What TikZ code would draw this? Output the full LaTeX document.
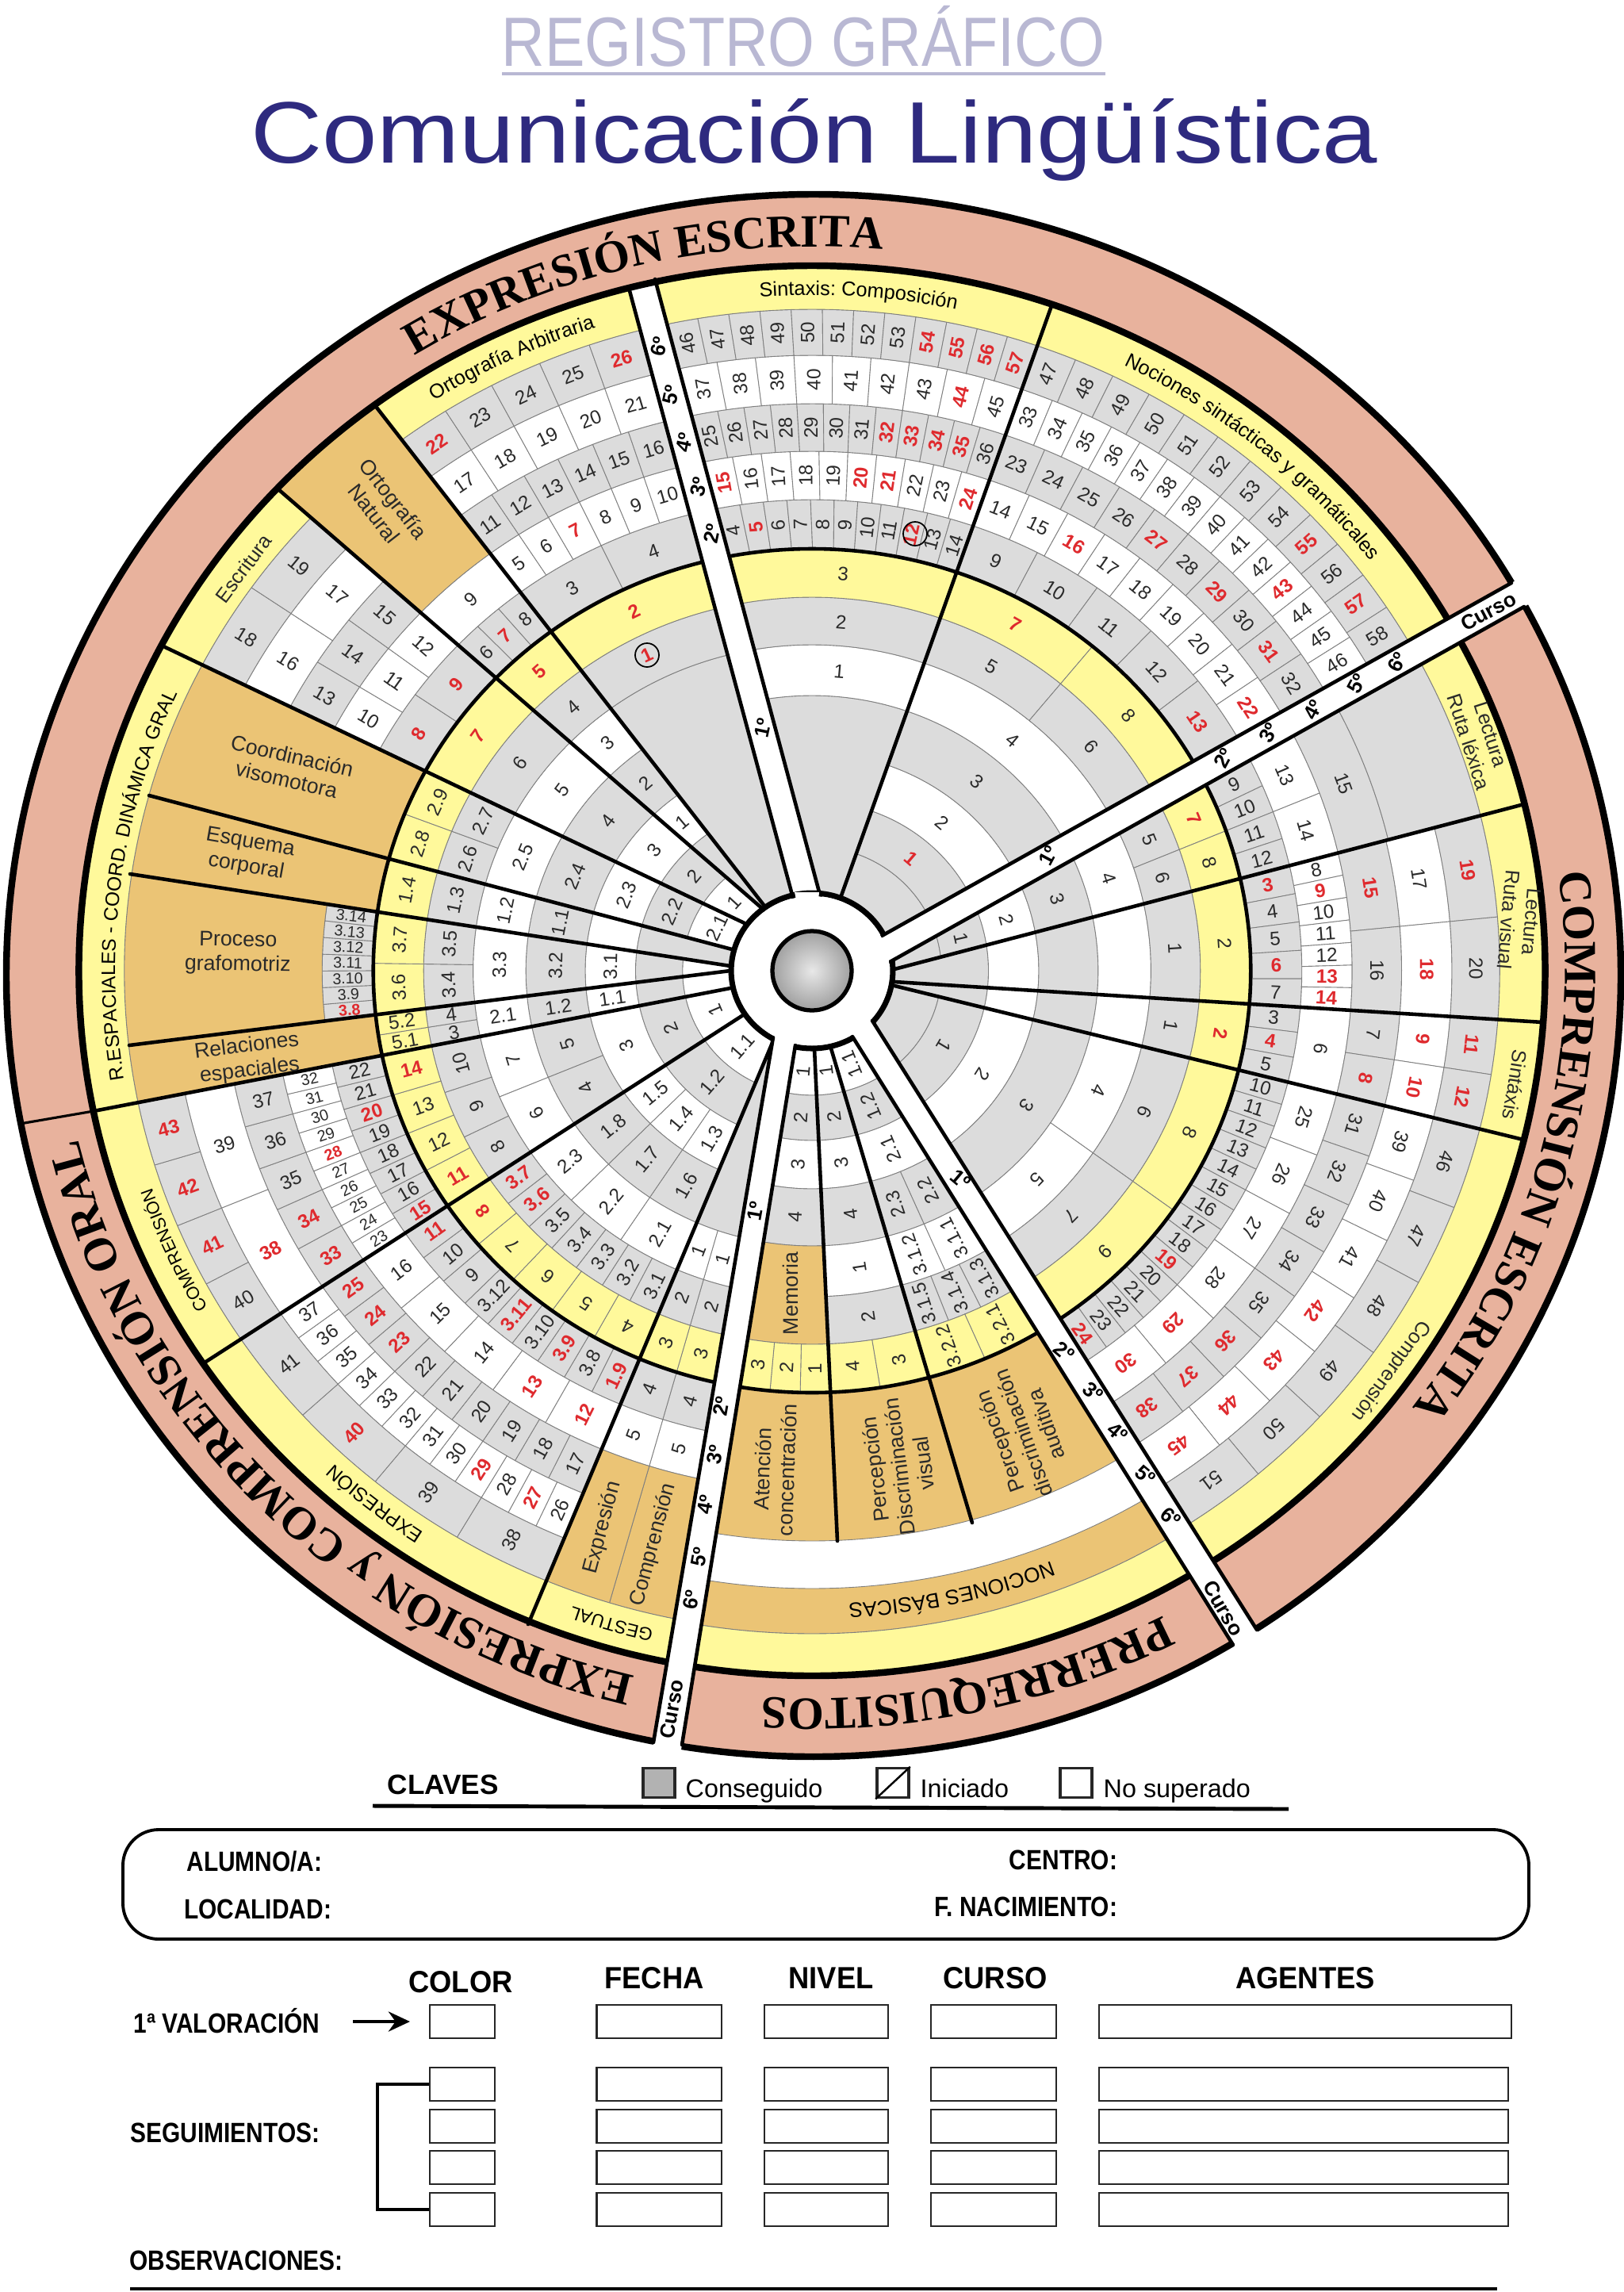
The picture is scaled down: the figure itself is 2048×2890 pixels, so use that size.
\documentclass[tikz,border=0pt]{standalone}
\usepackage{fontspec}
\usepackage{graphicx}
\setmainfont{Liberation Sans}
\newfontfamily\serifTitle{Liberation Serif}
\usetikzlibrary{calc, arrows.meta, decorations.text}

\definecolor{cellGrey}{HTML}{DCDCDC}
\definecolor{cellYellow}{HTML}{FFF99B}
\definecolor{cellOrange}{HTML}{EBC475}
\definecolor{ringSalmon}{HTML}{E8B29D}
\definecolor{cellLine}{HTML}{7F7F7F}
\definecolor{numDark}{HTML}{2A2A2A}
\definecolor{numRed}{HTML}{DF2A2E}
\definecolor{titleBlue}{HTML}{2E2A7F}
\definecolor{titlePale}{HTML}{B9B8D3}

\newcommand{\numFont}{\fontsize{6.9}{8}\selectfont}
\newcommand{\smallNum}{\fontsize{5.6}{6.5}\selectfont}
\newcommand{\labFont}{\fontsize{7.2}{8.4}\selectfont}
\newcommand{\rn}[1]{{\color{numRed}\bfseries #1}}
\newcommand{\cond}[1]{\scalebox{.85}[1]{\bfseries #1}}
\newcommand{\condHead}[1]{\scalebox{.94}[1]{\fontsize{11}{13}\bfseries\selectfont #1}}

\tikzset{
    cell/.style={draw=cellLine, line width=0.25pt},
    num/.style={font=\numFont, text=numDark, inner sep=0pt},
    orangeText/.style={font=\fontsize{7.6}{8.8}\selectfont, text=numDark, align=center, inner sep=0pt},
    yellowText/.style={font=\labFont, text=numDark, align=center, inner sep=0pt},
    courseText/.style={font=\fontsize{7.4}{8}\bfseries\selectfont, inner sep=0pt},
    spoke/.style={line width=1.3pt, line cap=round},
    formBox/.style={draw=black!85, line width=0.6pt, inner sep=0pt},
    formText/.style={font=\fontsize{10}{12}\selectfont, inner sep=0pt},
    legendText/.style={font=\fontsize{9.2}{11}\selectfont, inner sep=0pt, anchor=base west}
}

% Boundaries of a sector: angle and offset of its two sides
\newcommand{\setsector}[4]{\gdef\phiA{#1}\gdef\offA{#2}\gdef\phiB{#3}\gdef\offB{#4}}

% One ring of a sector: inner radius, outer radius, fill, text rotation, labels
\newcommand{\cellrow}[5]{%
    \gdef\nCell{0}%
    \foreach \lab in {#5} {\pgfmathtruncatemacro{\tmpN}{\nCell+1}\global\let\nCell\tmpN}%
    \pgfmathsetmacro{\inA}{\phiA+asin(\offA/#1)}%
    \pgfmathsetmacro{\inB}{\phiB+asin(\offB/#1)}%
    \pgfmathsetmacro{\outA}{\phiA+asin(\offA/#2)}%
    \pgfmathsetmacro{\outB}{\phiB+asin(\offB/#2)}%
    \pgfmathsetmacro{\rMid}{(#1+#2)/2}%
    \foreach \lab [count=\k] in {#5} {%
        \pgfmathsetmacro{\cIa}{\inA+(\inB-\inA)*(\k-1)/\nCell}%
        \pgfmathsetmacro{\cIb}{\inA+(\inB-\inA)*\k/\nCell}%
        \pgfmathsetmacro{\cOa}{\outA+(\outB-\outA)*(\k-1)/\nCell}%
        \pgfmathsetmacro{\cOb}{\outA+(\outB-\outA)*\k/\nCell}%
        \pgfmathsetmacro{\cMid}{(\cIa+\cIb+\cOa+\cOb)/4}%
        \pgfmathsetmacro{\cRot}{\cMid+#4}%
        \path[cell, fill=#3] (\cIa:#1) arc[start angle=\cIa, end angle=\cIb, radius=#1]
            -- (\cOb:#2) arc[start angle=\cOb, end angle=\cOa, radius=#2] -- cycle;
        \node[num, rotate=\cRot] at (\cMid:\rMid) {\lab};
    }%
}

% Text set along a ring, clockwise
\newcommand{\arctext}[5]{%
    \path[decorate, decoration={text along path, text align=center, text={|#4|#5}}]
        (#1:#3) arc[start angle=#1, end angle=#2, radius=#3];
}

\begin{document}
\begin{tikzpicture}[x=0.01cm, y=0.01cm]
    \useasboundingbox (0,0) rectangle (2048,-2890);

    % Draw titles
    \node[anchor=base, inner sep=0pt, text=titlePale, font=\fontsize{25}{30}\selectfont] (regTitle) at (1013,-83) {\scalebox{.86}[1]{REGISTRO GRÁFICO}};
    \draw[titlePale, line width=1.1pt] (633,-93) -- (1394,-93);
    \node[anchor=base, inner sep=0pt, text=titleBlue, font=\fontsize{31.3}{36}\selectfont] (mainTitle) at (1027,-205) {\scalebox{1.133}[1]{Comunicación Lingüística}};

    % Draw the salmon band
    \path[fill=ringSalmon] (1026,-1230) ellipse [x radius=1018, y radius=985];
    \draw[line width=2.4pt] (1026,-1230) ellipse [x radius=1018, y radius=985];

    \begin{scope}[shift={(1024,-1224)}, xscale=1.04]
        \fill[white] (0,0) circle (889);

        % Sintaxis
        \setsector{104.45}{-33.2}{71.08}{-2.9}
        \cellrow{98}{347}{cellGrey}{-90}{\relax}
        \cellrow{347}{411}{white}{-90}{1}
        \cellrow{411}{471}{cellGrey}{-90}{2}
        \cellrow{471}{532}{cellYellow}{-90}{3}
        \cellrow{532}{594}{cellGrey}{0}{4,\rn{5},6,7,8,9,10,11,\rn{12},13,14}
        \cellrow{594}{655}{white}{0}{\rn{15},16,17,18,19,\rn{20},\rn{21},22,23,\rn{24}}
        \cellrow{655}{715}{cellGrey}{0}{25,26,27,28,29,30,31,\rn{32},\rn{33},\rn{34},\rn{35},36}
        \cellrow{715}{776}{white}{0}{37,38,39,40,41,42,43,\rn{44},45}
        \cellrow{776}{834}{cellGrey}{0}{46,47,48,49,50,51,52,53,\rn{54},\rn{55},\rn{56},\rn{57}}
        \cellrow{834}{889}{cellYellow}{0}{\relax}

        % Nociones sintacticas
        \setsector{71.08}{-2.9}{30.24}{-4.6}
        \cellrow{98}{157}{cellGrey}{-90}{\relax}
        \cellrow{157}{214}{cellGrey}{-90}{\rn{1}}
        \cellrow{214}{275}{white}{-90}{2}
        \cellrow{275}{347}{cellGrey}{-90}{3}
        \cellrow{347}{411}{white}{-90}{4}
        \cellrow{411}{471}{cellGrey}{-90}{5,6}
        \cellrow{471}{532}{cellYellow}{-90}{\rn{7},8}
        \cellrow{532}{594}{cellGrey}{-90}{9,10,11,12,\rn{13}}
        \cellrow{594}{655}{white}{-90}{14,15,\rn{16},17,18,19,20,21,\rn{22}}
        \cellrow{655}{715}{cellGrey}{-90}{23,24,25,26,\rn{27},28,\rn{29},30,\rn{31},32}
        \cellrow{715}{776}{white}{0}{33,34,35,36,37,38,39,40,41,42,\rn{43},44,45,46}
        \cellrow{776}{834}{cellGrey}{0}{47,48,49,50,51,52,53,54,\rn{55},56,\rn{57},58}
        \cellrow{834}{889}{cellYellow}{0}{\relax}

        % Ruta lexica
        \setsector{30.21}{-37.9}{15.24}{-24.4}
        \cellrow{98}{157}{cellGrey}{-90}{\relax}
        \cellrow{157}{214}{cellGrey}{-90}{1}
        \cellrow{214}{275}{white}{-90}{2}
        \cellrow{275}{347}{cellGrey}{-90}{3}
        \cellrow{347}{411}{white}{-90}{4}
        \cellrow{411}{471}{cellGrey}{-90}{5,6}
        \cellrow{471}{532}{cellYellow}{-90}{\rn{7},8}
        \cellrow{532}{594}{cellGrey}{0}{9,10,11,12}
        \cellrow{594}{655}{white}{-90}{13,14}
        \cellrow{655}{718}{cellGrey}{-90}{15}
        \cellrow{718}{834}{cellGrey}{-90}{\relax}
        \cellrow{834}{889}{cellYellow}{0}{\relax}

        % Ruta visual
        \setsector{15.24}{-24.4}{-3.71}{-7.5}
        \cellrow{98}{214}{cellGrey}{-90}{\relax}
        \cellrow{214}{275}{white}{-90}{\relax}
        \cellrow{275}{347}{cellGrey}{-90}{\relax}
        \cellrow{347}{411}{white}{-90}{\relax}
        \cellrow{411}{471}{cellGrey}{-90}{1}
        \cellrow{471}{532}{cellYellow}{-90}{2}
        \cellrow{532}{594}{cellGrey}{0}{\rn{3},4,5,\rn{6},7}
        \cellrow{594}{655}{white}{0}{8,\rn{9},10,11,12,\rn{13},\rn{14}}
        \cellrow{655}{715}{cellGrey}{-90}{\rn{15},16}
        \cellrow{715}{776}{white}{-90}{17,\rn{18}}
        \cellrow{776}{834}{cellGrey}{-90}{\rn{19},20}
        \cellrow{834}{889}{cellYellow}{0}{\relax}

        % Sintaxis derecha
        \setsector{-3.71}{-7.5}{-14.27}{6.2}
        \cellrow{98}{214}{cellGrey}{-90}{\relax}
        \cellrow{214}{275}{white}{-90}{\relax}
        \cellrow{275}{347}{cellGrey}{-90}{\relax}
        \cellrow{347}{411}{white}{-90}{\relax}
        \cellrow{411}{471}{cellGrey}{-90}{1}
        \cellrow{471}{532}{cellYellow}{-90}{\rn{2}}
        \cellrow{532}{594}{cellGrey}{0}{3,\rn{4},5}
        \cellrow{594}{655}{white}{-90}{6}
        \cellrow{655}{715}{cellGrey}{-90}{7,\rn{8}}
        \cellrow{715}{776}{white}{-90}{\rn{9},\rn{10}}
        \cellrow{776}{834}{cellGrey}{-90}{\rn{11},\rn{12}}
        \cellrow{834}{889}{cellYellow}{0}{\relax}

        % Comprension lectora
        \setsector{-14.27}{6.2}{-58.74}{29.8}
        \cellrow{98}{157}{cellGrey}{-90}{\relax}
        \cellrow{157}{214}{cellGrey}{-90}{1}
        \cellrow{214}{275}{white}{-90}{2}
        \cellrow{275}{347}{cellGrey}{-90}{3}
        \cellrow{347}{411}{white}{-90}{4,5}
        \cellrow{411}{471}{cellGrey}{-90}{6,7}
        \cellrow{471}{532}{cellYellow}{-90}{8,9}
        \cellrow{532}{594}{cellGrey}{0}{10,11,12,13,14,15,16,17,18,\rn{19},20,21,22,23,\rn{24}}
        \cellrow{594}{655}{white}{-90}{25,26,27,28,\rn{29},\rn{30}}
        \cellrow{655}{715}{cellGrey}{-90}{31,32,33,34,35,\rn{36},\rn{37},\rn{38}}
        \cellrow{715}{776}{white}{-90}{39,40,41,\rn{42},\rn{43},\rn{44},\rn{45}}
        \cellrow{776}{834}{cellGrey}{-90}{46,47,48,49,50,51}
        \cellrow{834}{889}{cellYellow}{0}{\relax}

        % Percepcion auditiva
        \setsector{-58.96}{-0.8}{-74.03}{-4.8}
        \cellrow{98}{157}{white}{180}{1.1}
        \cellrow{157}{214}{cellGrey}{180}{1.2}
        \cellrow{214}{275}{white}{180}{2.1}
        \cellrow{275}{347}{cellGrey}{180}{2.2,2.3}
        \cellrow{347}{411}{white}{180}{3.1.1,3.1.2}
        \cellrow{411}{471}{cellGrey}{180}{3.1.3,3.1.4,3.1.5}
        \cellrow{471}{532}{cellYellow}{180}{3.2.1,3.2.2}
        \cellrow{532}{719}{cellOrange}{180}{\relax}

        % Percepcion visual
        \setsector{-74.03}{-4.8}{-87.43}{-1.5}
        \cellrow{98}{157}{white}{180}{1}
        \cellrow{157}{214}{cellGrey}{180}{2}
        \cellrow{214}{275}{white}{180}{3}
        \cellrow{275}{347}{cellGrey}{180}{4}
        \cellrow{347}{411}{white}{180}{1}
        \cellrow{411}{471}{cellGrey}{180}{2}
        \cellrow{471}{532}{cellYellow}{180}{3,4}
        \cellrow{532}{719}{cellOrange}{180}{\relax}

        % Memoria y atencion
        \setsector{-87.43}{-1.5}{-98.86}{-5.5}
        \cellrow{98}{157}{white}{180}{1}
        \cellrow{157}{214}{cellGrey}{180}{2}
        \cellrow{214}{275}{white}{180}{3}
        \cellrow{275}{347}{cellGrey}{180}{4}
        \cellrow{347}{471}{cellOrange}{180}{\relax}
        \cellrow{471}{532}{cellYellow}{180}{1,2,3}
        \cellrow{532}{719}{cellOrange}{180}{\relax}

        % Nociones basicas
        \setsector{-58.96}{-0.8}{-98.86}{-5.5}
        \cellrow{779}{836}{cellOrange}{180}{\relax}
        \cellrow{836}{889}{cellYellow}{180}{\relax}

        % Gestual
        \setsector{260.72}{-32.9}{248.01}{-10.6}
        \cellrow{98}{347}{cellGrey}{180}{\relax}
        \cellrow{347}{411}{white}{180}{1,1}
        \cellrow{411}{471}{cellGrey}{180}{2,2}
        \cellrow{471}{532}{cellYellow}{180}{3,3}
        \cellrow{532}{594}{cellGrey}{180}{4,4}
        \cellrow{594}{655}{white}{180}{5,5}
        \cellrow{655}{834}{cellOrange}{180}{\relax,\relax}
        \cellrow{834}{889}{cellYellow}{180}{\relax}

        % Expresion oral
        \setsector{248.01}{-10.6}{213.86}{-0.1}
        \cellrow{98}{157}{white}{180}{1.1}
        \cellrow{157}{214}{cellGrey}{180}{1.2}
        \cellrow{214}{275}{white}{180}{1.3,1.4,1.5}
        \cellrow{275}{347}{cellGrey}{180}{1.6,1.7,1.8}
        \cellrow{347}{411}{white}{180}{2.1,2.2,2.3}
        \cellrow{411}{471}{cellGrey}{180}{3.1,3.2,3.3,3.4,3.5,\rn{3.6},\rn{3.7}}
        \cellrow{471}{532}{cellYellow}{-90}{4,5,6,7,\rn{8}}
        \cellrow{532}{594}{cellGrey}{180}{\rn{1.9},3.8,\rn{3.9},3.10,\rn{3.11},3.12,9,10,\rn{11}}
        \cellrow{594}{655}{white}{180}{\rn{12},\rn{13},14,15,16}
        \cellrow{655}{715}{cellGrey}{180}{17,18,19,20,21,22,\rn{23},\rn{24},\rn{25}}
        \cellrow{715}{776}{white}{180}{26,\rn{27},28,\rn{29},30,31,32,33,34,35,36,37}
        \cellrow{776}{834}{cellGrey}{180}{38,39,\rn{40},41}
        \cellrow{834}{889}{cellYellow}{180}{\relax}

        % Comprension oral
        \setsector{213.86}{-0.1}{191.35}{2.1}
        \cellrow{98}{157}{white}{-90}{1}
        \cellrow{157}{214}{cellGrey}{-90}{2}
        \cellrow{214}{275}{white}{-90}{3}
        \cellrow{275}{347}{cellGrey}{-90}{4,5}
        \cellrow{347}{411}{white}{-90}{6,7}
        \cellrow{411}{471}{cellGrey}{-90}{8,9,10}
        \cellrow{471}{532}{cellYellow}{180}{\rn{11},12,13,\rn{14}}
        \cellrow{532}{594}{cellGrey}{180}{\rn{15},16,17,18,19,\rn{20},21,22}
        \renewcommand{\numFont}{\smallNum}
        \cellrow{594}{655}{white}{180}{23,24,25,26,27,\rn{28},29,30,31,32}
        \renewcommand{\numFont}{\fontsize{6.9}{8}\selectfont}
        \cellrow{655}{715}{cellGrey}{180}{\rn{33},\rn{34},35,36,37}
        \cellrow{715}{776}{white}{180}{\rn{38},39}
        \cellrow{776}{834}{cellGrey}{180}{40,\rn{41},\rn{42},\rn{43}}
        \cellrow{834}{889}{cellYellow}{180}{\relax}

        % Relaciones espaciales
        \setsector{191.35}{2.1}{187.35}{-12.66}
        \cellrow{98}{157}{white}{180}{\relax}
        \cellrow{157}{214}{cellGrey}{180}{\relax}
        \cellrow{214}{275}{white}{180}{1.1}
        \cellrow{275}{347}{cellGrey}{180}{1.2}
        \cellrow{347}{411}{white}{180}{2.1}
        \cellrow{411}{471}{cellGrey}{180}{3,4}
        \cellrow{471}{532}{cellYellow}{180}{5.1,5.2}
        \cellrow{532}{834}{cellOrange}{180}{\relax}

        % Proceso grafomotriz
        \setsector{187.35}{-12.66}{170.95}{9.6}
        \cellrow{98}{157}{white}{-90}{\relax}
        \cellrow{157}{214}{cellGrey}{-90}{\relax}
        \cellrow{214}{275}{white}{-90}{3.1}
        \cellrow{275}{347}{cellGrey}{-90}{3.2}
        \cellrow{347}{411}{white}{-90}{3.3}
        \cellrow{411}{471}{cellGrey}{-90}{3.4,3.5}
        \cellrow{471}{532}{cellYellow}{-90}{3.6,3.7}
        \renewcommand{\numFont}{\smallNum}
        \cellrow{532}{594}{cellGrey}{180}{\rn{3.8},3.9,3.10,3.11,3.12,3.13,3.14}
        \renewcommand{\numFont}{\fontsize{6.9}{8}\selectfont}
        \cellrow{594}{834}{cellOrange}{180}{\relax}

        % Esquema corporal
        \setsector{170.95}{9.6}{164.66}{-0.4}
        \cellrow{98}{214}{cellGrey}{-90}{\relax}
        \cellrow{214}{275}{white}{-90}{\relax}
        \cellrow{275}{347}{cellGrey}{-90}{1.1}
        \cellrow{347}{411}{white}{-90}{1.2}
        \cellrow{411}{471}{cellGrey}{-90}{1.3}
        \cellrow{471}{532}{cellYellow}{-90}{1.4}
        \cellrow{532}{834}{cellOrange}{180}{\relax}

        % Coordinacion visomotora
        \setsector{164.66}{-0.4}{153.64}{-17.4}
        \cellrow{98}{157}{white}{-90}{2.1}
        \cellrow{157}{214}{cellGrey}{-90}{2.2}
        \cellrow{214}{275}{white}{-90}{2.3}
        \cellrow{275}{347}{cellGrey}{-90}{2.4}
        \cellrow{347}{411}{white}{-90}{2.5}
        \cellrow{411}{471}{cellGrey}{-90}{2.6,2.7}
        \cellrow{471}{532}{cellYellow}{-90}{2.8,2.9}
        \cellrow{532}{834}{cellOrange}{180}{\relax}

        % Banda amarilla izquierda
        \setsector{191.35}{2.1}{153.64}{-17.4}
        \cellrow{834}{889}{cellYellow}{180}{\relax}

        % Escritura
        \setsector{153.64}{-17.4}{137.98}{-17.9}
        \cellrow{98}{157}{white}{-90}{1}
        \cellrow{157}{214}{cellGrey}{-90}{2}
        \cellrow{214}{275}{white}{-90}{3}
        \cellrow{275}{347}{cellGrey}{-90}{4}
        \cellrow{347}{411}{white}{-90}{5}
        \cellrow{411}{471}{cellGrey}{-90}{6}
        \cellrow{471}{532}{cellYellow}{-90}{\rn{7}}
        \cellrow{532}{594}{cellGrey}{-90}{\rn{8},\rn{9}}
        \cellrow{594}{655}{white}{180}{10,11,12}
        \cellrow{655}{715}{cellGrey}{180}{13,14,15}
        \cellrow{715}{776}{white}{180}{16,17}
        \cellrow{776}{834}{cellGrey}{180}{18,19}
        \cellrow{834}{889}{cellYellow}{180}{\relax}

        % Ortografia natural
        \setsector{137.98}{-17.9}{126.81}{-2.7}
        \cellrow{98}{214}{cellGrey}{-90}{\relax}
        \cellrow{214}{275}{white}{-90}{1}
        \cellrow{275}{347}{cellGrey}{-90}{2}
        \cellrow{347}{411}{white}{-90}{3}
        \cellrow{411}{471}{cellGrey}{-90}{4}
        \cellrow{471}{532}{cellYellow}{-90}{\rn{5}}
        \cellrow{532}{594}{cellGrey}{-90}{6,\rn{7},8}
        \cellrow{594}{655}{white}{-90}{9}
        \cellrow{655}{889}{cellOrange}{180}{\relax}

        % Ortografia arbitraria
        \setsector{126.81}{-2.7}{104.51}{-0.69}
        \cellrow{98}{411}{cellGrey}{-90}{\relax}
        \cellrow{411}{471}{cellGrey}{-90}{\relax}
        \cellrow{471}{532}{cellYellow}{-90}{\rn{2}}
        \cellrow{532}{594}{cellGrey}{-90}{3,4}
        \cellrow{594}{655}{white}{-90}{5,6,\rn{7},8,9,10}
        \cellrow{655}{715}{cellGrey}{-90}{11,12,13,14,15,16}
        \cellrow{715}{776}{white}{-90}{17,18,19,20,21}
        \cellrow{776}{834}{cellGrey}{-90}{\rn{22},23,24,25,\rn{26}}
        \cellrow{834}{889}{cellYellow}{0}{\relax}

        % Thick inner ring
        \draw[line width=1.3pt] (0,0) circle (532);
    \end{scope}

    % Draw the dividing spokes
    \foreach \ax/\ay/\bx/\by in {1060/1132/1327/383, 1128/1222/1922/1014, 1128/1238/1946/1289, 1128/1243/1921/1437,
        1048/1322/1226/1920, 1027/1322/1056/1943, 976/1310/666/2048, 937/1280/255/1720,
        921/1246/118/1401, 921/1224/163/1318, 921/1218/164/1102, 923/1197/188/1003,
        941/1165/204/814, 963/1147/351/617, 963/1141/472/510}
        \draw[spoke] (\ax,-\ay) -- (\bx,-\by);
    \draw[line width=0.9pt] (118,-1401) -- (25,-1417);

    % Short strip, then the outer ring, then the long strips
    \fill[white] (1024,-1224) -- (1000,-1132) -- (793,-363) -- (826,-352) -- (1035,-1132) -- cycle;
    \draw[spoke] (1000,-1132) -- (793,-363) (1035,-1132) -- (826,-352);

    \begin{scope}[shift={(1024,-1224)}, xscale=1.04]
        \draw[line width=2.4pt] (0,0) circle (889);
        \draw[line width=2pt] (0,0) circle (98);
    \end{scope}

    \foreach \ax/\ay/\bx/\by/\cx/\cy/\dx/\dy in {1112/1180/1906/735/1122/1213/1922/765,
        1100/1287/1585/2055/1075/1307/1555/2074, 1003/1318/860/2200/975/1308/824/2197} {
        \fill[white] (1024,-1224) -- (\ax,-\ay) -- ($(\ax,-\ay)!1.03!(\bx,-\by)$) -- ($(\cx,-\cy)!1.03!(\dx,-\dy)$) -- (\cx,-\cy) -- cycle;
        \draw[spoke] (\ax,-\ay) -- (\bx,-\by) (\cx,-\cy) -- (\dx,-\dy);
    }
    % Mouth of the short strip at the hub
    \fill[white] (1024,-1224) -- (1002,-1125) -- (1033,-1125) -- cycle;

    % Hub and ball
    \begin{scope}[shift={(1024,-1224)}, xscale=1.04]
        \fill[white] (0,0) circle (94);
    \end{scope}
    \shade[inner color=gray!18, outer color=gray!75] (1024,-1224) circle (50);
    \draw[line width=1.5pt] (1024,-1224) circle (50);

    % Circled numbers
    \draw[line width=0.5pt] (1154,-673) circle (15);
    \node[num, rotate=25] (circledOne) at (816,-826) {\rn{1}};
    \draw[line width=0.5pt] (816,-826) circle (15);

    % Course marks on the strips
    \foreach \px/\py/\txt in {962/918/1º, 898/673/2º, 881/614/3º, 863/558/4º, 846/498/5º, 831/437/6º}
        \node[courseText, rotate=78] at (\px,-\py) {\txt};
    \foreach \px/\py/\txt in {1322/1079/1º, 1543/956/2º, 1600/924/3º, 1656/895/4º, 1711/862/5º, 1762/835/6º}
        \node[courseText, rotate=62] at (\px,-\py) {\txt};
    \foreach \px/\py/\txt in {1211/1487/1º, 1342/1704/2º, 1378/1755/3º, 1409/1806/4º, 1444/1860/5º, 1476/1913/6º}
        \node[courseText, rotate=-40] at (\px,-\py) {\txt};
    \foreach \px/\py/\txt in {953/1527/1º, 910/1773/2º, 902/1834/3º, 890/1897/4º, 882/1963/5º, 872/2017/6º}
        \node[courseText, rotate=80] at (\px,-\py) {\txt};
    \node[courseText, rotate=28] at (1877,-771) {Curso};
    \node[courseText, rotate=-60] at (1543,-2028) {Curso};
    \node[courseText, rotate=80] at (847,-2155) {Curso};

    % Texts on the rings
    \begin{scope}[shift={(1024,-1224)}, xscale=1.04]
        \arctext{132}{74.6}{913}{\serifTitle\bfseries\fontsize{16.6}{18}\selectfont}{EXPRESIÓN ESCRITA}
        \arctext{27}{-56}{913}{\serifTitle\bfseries\fontsize{16.6}{18}\selectfont}{COMPRENSIÓN ESCRITA}
        \arctext{-53}{-103}{918}{\serifTitle\bfseries\fontsize{16.6}{18}\selectfont}{PRERREQUISITOS}
        \arctext{278}{171}{915}{\serifTitle\bfseries\fontsize{16.6}{18}\selectfont}{EXPRESIÓN y COMPRENSIÓN ORAL}
        \arctext{72}{28.8}{852}{\labFont}{Nociones sintácticas y gramáticales}
        \arctext{102}{70.4}{852}{\labFont}{Sintaxis: Composición}
        \arctext{132}{98.6}{852}{\labFont}{Ortografía Arbitraria}
        \arctext{200}{145}{845}{\fontsize{7}{8}\selectfont}{R.ESPACIALES - COORD. DINÁMICA GRAL}
        \arctext{222}{186.8}{846}{\fontsize{6.3}{8}\selectfont}{COMPRENSIÓN}
        \arctext{249}{214.2}{850}{\fontsize{7}{8}\selectfont}{EXPRESIÓN}
        \arctext{263}{244}{852}{\fontsize{6.5}{8}\selectfont}{GESTUAL}
        \arctext{-55}{-100.4}{799}{\fontsize{7.5}{8}\selectfont}{NOCIONES BÁSICAS}
    \end{scope}
    \node[yellowText, rotate=53] (escritura) at (307,-717) {Escritura};
    \node[yellowText, rotate=-126] (compLect) at (1754,-1728) {Comprensión};
    \node[yellowText, rotate=-99] (sintaxisDer) at (1911,-1368) {Sintáxis};
    \node[yellowText, rotate=-95] (rutaVisual) at (1917,-1161) {Lectura\\Ruta visual};
    \node[yellowText, rotate=-72] (rutaLexica) at (1866,-931) {Lectura\\Ruta léxica};

    % Texts on the orange cells
    \node[orangeText, rotate=-52] (ortoNatural) at (484,-638) {Ortografía\\Natural};
    \node[orangeText, rotate=-13] (coordVisual) at (365,-968) {Coordinación\\visomotora};
    \node[orangeText, rotate=-10] (esquema) at (313,-1078) {Esquema\\corporal};
    \node[orangeText, rotate=-1] (proceso) at (300,-1202) {Proceso\\grafomotriz};
    \node[orangeText, rotate=7] (relaciones) at (313,-1335) {Relaciones\\espaciales};
    \node[orangeText, rotate=90] (memoria) at (997,-1631) {Memoria};
    \node[orangeText, rotate=88] (atencion) at (977,-1853) {Atención\\concentración};
    \node[orangeText, rotate=97] (percVisual) at (1134,-1849) {Percepción\\Discriminación\\visual};
    \node[orangeText, rotate=110] (percAudit) at (1290,-1807) {Percepción\\discriminación\\auditiva};
    \node[orangeText, rotate=75] (expresionG) at (760,-1926) {Expresión};
    \node[orangeText, rotate=75] (comprensionG) at (824,-1948) {Comprensión};

    % Legend
    \node[formText, anchor=base west] (claves) at (488,-2262) {\bfseries CLAVES};
    \draw[line width=1.4pt] (470,-2277) -- (1625,-2281);
    \node[formBox, fill=black!30, line width=1pt, minimum width=0.4cm, minimum height=0.37cm] (keyDone) at (831,-2248) {};
    \node[legendText] (doneText) at (864,-2266) {Conseguido};
    \node[formBox, line width=1pt, minimum width=0.4cm, minimum height=0.37cm] (keyStart) at (1126,-2248) {};
    \draw[line width=0.7pt] (keyStart.south west) -- (keyStart.north east);
    \node[legendText] (startText) at (1160,-2266) {Iniciado};
    \node[formBox, line width=1pt, minimum width=0.4cm, minimum height=0.37cm] (keyNone) at (1357,-2248) {};
    \node[legendText] (noneText) at (1391,-2266) {No superado};

    % Pupil data
    \draw[line width=1.1pt, rounded corners=0.45cm] (155,-2307) rectangle (1928,-2445);
    \node[formText] (alumno) at (321,-2347) {\cond{ALUMNO/A:}};
    \node[formText] (centro) at (1341,-2345) {\cond{CENTRO:}};
    \node[formText] (localidad) at (325,-2407) {\cond{LOCALIDAD:}};
    \node[formText] (nacimiento) at (1294,-2404) {\cond{F. NACIMIENTO:}};

    % Table of assessments
    \node[formText] (colorHead) at (581,-2499) {\condHead{COLOR}};
    \node[formText] (fechaHead) at (825,-2494) {\condHead{FECHA}};
    \node[formText] (nivelHead) at (1048,-2494) {\condHead{NIVEL}};
    \node[formText] (cursoHead) at (1255,-2494) {\condHead{CURSO}};
    \node[formText] (agentesHead) at (1646,-2494) {\condHead{AGENTES}};

    \foreach \yy/\aw [count=\k] in {2549/5.2, 2628/5.16, 2681/5.16, 2733/5.16, 2786/5.16} {
        \node[formBox, minimum width=0.82cm, minimum height=0.42cm] (colorBox\k) at (583,-\yy) {};
        \node[formBox, minimum width=1.57cm, minimum height=0.42cm] (fechaBox\k) at (831,-\yy) {};
        \node[formBox, minimum width=1.56cm, minimum height=0.42cm] (nivelBox\k) at (1042,-\yy) {};
        \node[formBox, minimum width=1.58cm, minimum height=0.42cm] (cursoBox\k) at (1253,-\yy) {};
        \node[formBox, minimum width=\aw cm, minimum height=0.42cm, anchor=west] (agenteBox\k) at (1385,-\yy) {};
    }
    \node[formText] (valoracion) at (286,-2548) {\cond{1ª VALORACIÓN}};
    \coordinate (arrowStart) at (445,-2549);
    \coordinate (arrowEnd) at (517,-2549);
    \draw[line width=1.4pt, -{Stealth[length=0.27cm, width=0.25cm]}] (arrowStart) -- (arrowEnd);
    \node[formText] (seguimientos) at (284,-2689) {\cond{SEGUIMIENTOS:}};
    \coordinate (bracketMid) at (476,-2700);
    \draw[line width=1.4pt] (colorBox2.west) -| (bracketMid) |- (colorBox5.west);
    \node[formText] (observaciones) at (298,-2850) {\cond{OBSERVACIONES:}};
    \draw[line width=1.1pt] (164,-2886) -- (1888,-2886);
\end{tikzpicture}
\end{document}
